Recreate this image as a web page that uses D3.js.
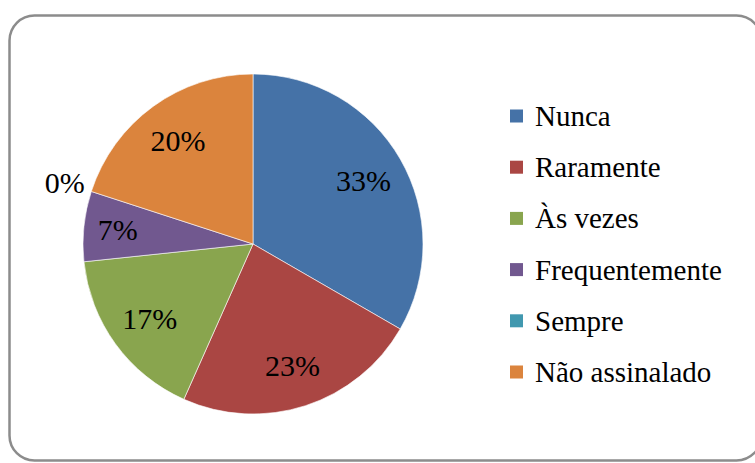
<!DOCTYPE html>
<html>
<head>
<meta charset="utf-8">
<script src="https://cdn.jsdelivr.net/npm/d3@7"></script>
<style>
  body { margin: 0; background: #fff; }
</style>
</head>
<body>
<div id="chart"></div>
<script>
// categories and counts (percent = count / total)
const categories = ["Nunca", "Raramente", "Às vezes", "Frequentemente", "Sempre", "Não assinalado"];
const counts = [10, 7, 5, 2, 0, 6];
const colors = ["#4572A7", "#AA4643", "#89A54E", "#71588F", "#4198AF", "#DB843D"];

const width = 755;
const height = 463;
const serif = '"Liberation Serif", "Times New Roman", serif';

const svg = d3.select("#chart")
  .append("svg")
  .attr("width", width)
  .attr("height", height);

// outer rounded frame
svg.append("rect")
  .attr("x", 9.5)
  .attr("y", 15.5)
  .attr("width", 752)
  .attr("height", 445)
  .attr("rx", 25)
  .attr("fill", "#fff")
  .attr("stroke", "#8c8c8c")
  .attr("stroke-width", 2.5);

const cx = 253, cy = 244, r = 170;
const total = d3.sum(counts);

const pie = d3.pie().sort(null).value((d) => d.value);
const arcs = pie(categories.map((c, i) => ({ name: c, value: counts[i], color: colors[i] })));

const arc = d3.arc().innerRadius(0).outerRadius(r);

const g = svg.append("g").attr("transform", `translate(${cx},${cy})`);

g.selectAll("path")
  .data(arcs)
  .enter()
  .append("path")
  .attr("d", arc)
  .attr("fill", (d) => d.data.color)
  .attr("stroke", "#fff")
  .attr("stroke-width", (d) => (d.data.value > 0 ? 0.6 : 0));

// label radius: inside for normal slices, pushed out a bit for thin ones, outside for empty
function labelRadius(d) {
  if (d.data.value === 0) return r + 28;
  if (d.data.value / total < 0.1) return r * 0.8;
  return r * 0.75;
}

const fmt = d3.format(".0%");

g.selectAll(".pct")
  .data(arcs)
  .enter()
  .append("text")
  .attr("class", "pct")
  .attr("x", (d) => Math.sin((d.startAngle + d.endAngle) / 2) * labelRadius(d))
  .attr("y", (d) => -Math.cos((d.startAngle + d.endAngle) / 2) * labelRadius(d))
  .attr("text-anchor", "middle")
  .attr("dy", "0.35em")
  .style("font-family", serif)
  .style("font-size", "30px")
  .style("fill", "#000")
  .text((d) => fmt(d.data.value / total));

// legend
const legendY = d3.scalePoint()
  .domain(categories)
  .range([116, 372]);

const legend = svg.append("g")
  .selectAll("g")
  .data(categories)
  .enter()
  .append("g")
  .attr("transform", (d) => `translate(510,${legendY(d)})`);

legend.append("rect")
  .attr("x", 0)
  .attr("y", -6.5)
  .attr("width", 13)
  .attr("height", 13)
  .attr("fill", (d, i) => colors[i]);

legend.append("text")
  .attr("x", 25)
  .attr("y", 10)
  .style("font-family", serif)
  .style("font-size", "29px")
  .style("fill", "#000")
  .text((d) => d);
</script>
</body>
</html>
